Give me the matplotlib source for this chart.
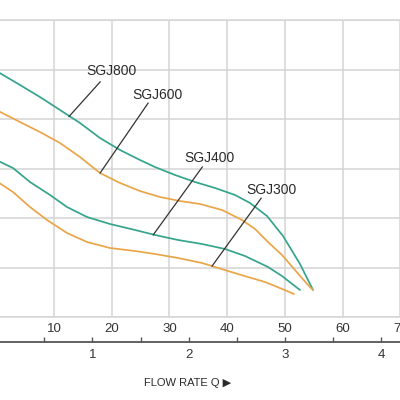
import matplotlib.pyplot as plt

plt.rcParams['font.family'] = ['Liberation Sans', 'DejaVu Sans']

# flow in l/min, head in m
sgj800_q = [0, 4.11, 7.57, 11.04, 14.51, 17.97, 21.44, 24.90, 27.50, 30.97, 34.44, 37.91,
            41.37, 43.97, 46.92, 49.69, 52.63, 54.89]
sgj800_h = [49.70, 46.87, 44.44, 41.82, 39.19, 36.16, 33.74, 31.72, 30.30, 28.69, 27.27, 26.06,
            24.65, 23.03, 20.40, 16.36, 10.71, 5.45]

sgj600_q = [0, 4.11, 7.57, 11.04, 14.51, 17.97, 21.44, 24.90, 28.37, 31.84, 35.31,
            39.12, 42.58, 44.84, 47.09, 49.51, 51.77, 54.02, 54.89]
sgj600_h = [41.82, 39.39, 37.37, 35.15, 32.32, 29.09, 27.07, 25.45, 24.24, 23.43, 22.83,
            21.62, 19.60, 17.78, 15.15, 12.53, 9.49, 6.46, 5.45]

sgj400_q = [0, 2.89, 5.84, 9.31, 12.25, 15.72, 19.70, 24.04, 27.50, 31.49, 35.65,
            39.64, 43.10, 47.09, 49.51, 52.63]
sgj400_h = [31.72, 30.10, 27.27, 24.65, 22.22, 20.20, 18.79, 17.58, 16.57, 15.56, 14.75,
            13.74, 12.32, 10.10, 8.28, 5.45]

sgj300_q = [0, 2.89, 5.84, 8.79, 12.25, 15.72, 19.70, 24.04, 27.50, 31.49, 35.65,
            40.16, 43.62, 46.57, 48.30, 51.59]
sgj300_h = [27.47, 25.25, 22.22, 19.60, 16.97, 15.15, 13.94, 13.33, 12.73, 11.92, 10.91,
            9.29, 8.08, 7.07, 6.26, 4.65]

labels = ['SGJ800', 'SGJ600', 'SGJ400', 'SGJ300']
label_xy = [(19.9, 49.7), (28.0, 44.8), (37.0, 32.1), (47.6, 25.7)]
leader_start = [(18.0, 47.5), (26.3, 43.2), (35.7, 30.3), (45.9, 24.0)]
leader_end = [(12.6, 40.5), (18.0, 29.1), (27.2, 16.6), (37.4, 10.3)]

flow_ticks = [0, 10, 20, 30, 40, 50, 60, 70]
m3h_ticks = [0, 1, 2, 3, 4]

teal = '#35a48c'
orange = '#e9a548'
grid_c = '#d4d4d4'

fig = plt.figure(figsize=(4, 4), dpi=100)
ax = fig.add_axes([-0.00925, 0.2075, 1.017, 0.7425])

for q, h, c in [(sgj800_q, sgj800_h, teal), (sgj600_q, sgj600_h, orange),
                (sgj400_q, sgj400_h, teal), (sgj300_q, sgj300_h, orange)]:
    ax.plot(q, h, color=c, lw=1.25, solid_joinstyle='round', solid_capstyle='round')

for lab, (tx, ty), (x0, y0), (x1, y1) in zip(labels, label_xy, leader_start, leader_end):
    ax.text(tx, ty, lab, ha='center', va='center', fontsize=10, color='#2a2a2a')
    ax.plot([x0, x1], [y0, y1], color='#333333', lw=0.9)

ax.set_xlim(0, 70.5)
ax.set_ylim(0, 60)
ax.set_xticks(flow_ticks)
ax.set_yticks(range(0, 61, 10))
ax.set_yticklabels([])
ax.grid(True, color=grid_c, lw=1.1)
ax.tick_params(axis='x', length=0, pad=4, labelsize=9.5, labelcolor='#333333')
ax.tick_params(axis='y', length=0)
for side in ['left', 'right']:
    ax.spines[side].set_visible(False)
for side in ['top', 'bottom']:
    ax.spines[side].set_color(grid_c)
    ax.spines[side].set_linewidth(1.1)

sec = ax.secondary_xaxis(-0.0842, functions=(lambda q: q / 16.667, lambda m: m * 16.667))
sec.set_xticks(m3h_ticks)
sec.set_xticks([0.5, 1.5, 2.5, 3.5], minor=True)
sec.spines['bottom'].set_color('#555555')
sec.spines['bottom'].set_linewidth(1.3)
sec.tick_params(which='both', direction='in', length=3.5, width=1, color='#555555')
sec.tick_params(which='major', pad=5, labelsize=9.5, labelcolor='#333333')

fig.text(0.47, 0.0425, 'FLOW RATE Q ▶', ha='center', va='center', fontsize=8, color='#2a2a2a')

fig.savefig('out.png', dpi=100)
